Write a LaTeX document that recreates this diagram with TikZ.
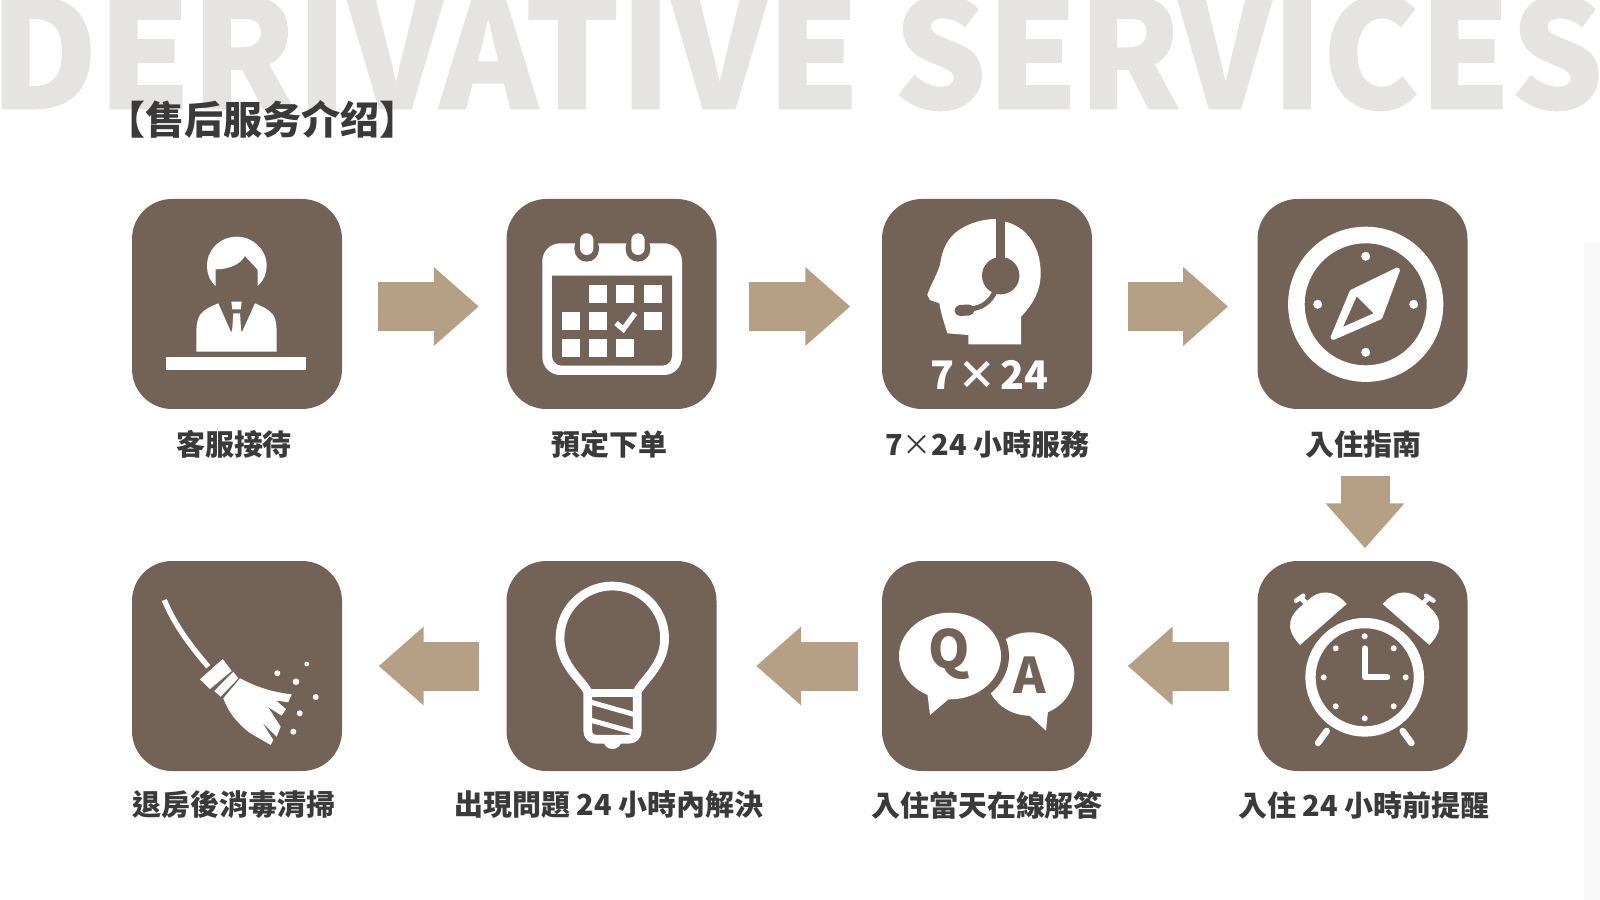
\documentclass[tikz,border=0pt]{standalone}
\usepackage{fontspec}
\usetikzlibrary{arrows.meta}
\newfontfamily\cjkfont{Noto Sans CJK TC}
\newfontfamily\heavyfont[FakeBold=1]{Noto Sans CJK TC Black}
\definecolor{boxbrown}{HTML}{736357}
\definecolor{arrowtan}{HTML}{B59F85}
\definecolor{bggrey}{HTML}{E5E4E2}
\definecolor{labelgrey}{HTML}{3A3A3A}
\definecolor{edgegrey}{HTML}{F8F8F8}
\tikzset{
	iconbox/.style={fill=boxbrown, rounded corners=4mm, minimum size=21mm, inner sep=0pt},
	boxlabel/.style={text=labelgrey, inner sep=0pt, font=\cjkfont\bfseries\fontsize{8.25}{10}\selectfont},
	flowarrow/.style={arrowtan, line width=4.9mm, -{Triangle[length=4.5mm,width=7.6mm]}},
	iconline/.style={white, line width=0.87mm},
}
\begin{document}
\begin{tikzpicture}[x=0.1mm, y=-0.1mm]
	\useasboundingbox (0, 0) rectangle (1600, 900);
	\fill[edgegrey] (1584, 243) rectangle (1600, 900);

	\node[anchor=base west, inner sep=0pt, text=bggrey, xscale=0.987, transform shape, font=\heavyfont\fontsize{42.7}{50}\selectfont] (bgtitle) at (-11, 108.5) {DERIVATIVE \scalebox{0.98}[1]{SERVICES}};
	\node[anchor=west, inner sep=0pt, text=labelgrey, font=\cjkfont\bfseries\fontsize{11.1}{13}\selectfont] (title) at (106, 119) {【售后服务介绍】};

	\node[iconbox] (desk) at (237, 304) {};
	\node[iconbox] (calendar) at (611.5, 304) {};
	\node[iconbox] (headset) at (987, 304) {};
	\node[iconbox] (compass) at (1362.5, 304) {};
	\node[iconbox] (clock) at (1362.5, 666) {};
	\node[iconbox] (qa) at (987, 666) {};
	\node[iconbox] (bulb) at (611.5, 666) {};
	\node[iconbox] (broom) at (237, 666) {};

	\node[boxlabel] (desklabel) at (234, 444) {客服接待};
	\node[boxlabel] (calendarlabel) at (609.5, 444) {預定下单};
	\node[boxlabel] (headsetlabel) at (987.5, 444) {7{\mdseries ×}24 小時服務};
	\node[boxlabel] (compasslabel) at (1363.5, 444) {入住指南};
	\node[boxlabel] (clocklabel) at (1364, 805) {入住 24 小時前提醒};
	\node[boxlabel] (qalabel) at (987, 805) {入住當天在線解答};
	\node[boxlabel] (bulblabel) at (609, 805) {出現問題 24 小時內解決};
	\node[boxlabel] (broomlabel) at (234, 805) {退房後消毒清掃};

	% arrows
	\draw[flowarrow, shorten <=3.5mm, shorten >=2.7mm] ([yshift=-0.25mm]desk.east) -- ([yshift=-0.25mm]calendar.west);
	\draw[flowarrow, shorten <=3.2mm, shorten >=3.1mm] ([yshift=-0.25mm]calendar.east) -- ([yshift=-0.25mm]headset.west);
	\draw[flowarrow, shorten <=3.5mm, shorten >=2.86mm] ([yshift=-0.25mm]headset.east) -- ([yshift=-0.25mm]compass.west);
	\draw[flowarrow, shorten <=6.6mm, shorten >=1.2mm] ([xshift=0.25mm]compass.south) -- ([xshift=0.25mm]clock.north);
	\draw[flowarrow, shorten <=2.8mm, shorten >=3.5mm] (clock.west) -- (qa.east);
	\draw[flowarrow, shorten <=2.36mm, shorten >=3.9mm] (qa.west) -- (bulb.east);
	\draw[flowarrow, shorten <=2.66mm, shorten >=3.6mm] (bulb.west) -- (broom.east);

	% desk
	\fill[white] (215.7, 286) .. controls (209, 280) and (207, 273) .. (207, 266) .. controls (207, 249.5) and (220, 236.7) .. (236.8, 236.7) .. controls (253, 236.7) and (266.7, 249.5) .. (266.7, 266) .. controls (266.7, 273) and (264, 280) .. (257.7, 286) -- (257.7, 270) .. controls (254, 265) and (250, 262) .. (245, 256) .. controls (240, 265) and (228, 269.3) .. (215.7, 269.3) -- cycle;
	\fill[white] (196.3, 351.7) -- (196.3, 335) .. controls (196.3, 322) and (198, 318) .. (200, 315) .. controls (204, 309) and (212, 306) .. (218.3, 303.3) -- (231.3, 332.7) -- (232.3, 328.3) -- (233.3, 313.3) -- (240, 313.3) -- (241, 328.3) -- (241.7, 332.7) -- (255, 303.3) .. controls (261, 306) and (269, 309) .. (273.3, 315) .. controls (275, 318) and (276.7, 322) .. (276.7, 335) -- (276.7, 351.7) -- cycle;
	\fill[white] (231.3, 301.7) -- (241.7, 301.7) -- (240.7, 309.3) -- (232.3, 309.3) -- cycle;
	\fill[white] (166.3, 357) rectangle (306.3, 370);

	% calendar
	\fill[white, rounded corners=1.8mm] (542.3, 243.3) rectangle (682, 375);
	\fill[boxbrown] (552, 275.7) [rounded corners=1mm] -- (552, 365.7) -- (672, 365.7) [sharp corners] -- (672, 275.7) -- cycle;
	\foreach \x in {586.7, 638} {
		\fill[boxbrown, rounded corners=1.23mm] (\x-12.3, 235) rectangle (\x+12.3, 261.7);
		\fill[white, rounded corners=0.67mm] (\x-6.7, 233.3) rectangle (\x+6.7, 255);
	}
	\foreach \x/\y in {589.3/285, 616.3/285, 643.7/285, 562.3/312, 589.3/312, 643.7/312, 562.3/339, 589.3/339, 616.3/339}
		\fill[white] (\x, \y) rectangle (\x+18, \y+18);
	\draw[white, line width=0.53mm] (616, 323) -- (623.3, 329.3) -- (635, 313.3);

	% headset
	\fill[white] (995.7, 219) .. controls (980, 219) and (956, 226) .. (946.7, 243.3) .. controls (942, 252) and (941, 258) .. (940, 265) .. controls (936, 277) and (930, 286) .. (927.3, 295) -- (930, 300) -- (939.3, 303.3) .. controls (941, 312) and (942, 316) .. (943.3, 320) -- (947.3, 333.3) -- (968.3, 335) -- (968.3, 344.3) -- (1021, 344.3) -- (1021, 316.7) .. controls (1034, 303) and (1040.7, 290) .. (1040.7, 273.3) .. controls (1040.7, 245) and (1025, 226) .. (1005, 221.7) -- cycle;
	\draw[boxbrown, line width=0.93mm] (1000.3, 205) -- (1000.3, 262);
	\fill[boxbrown] (1000.7, 275.7) circle (18.7);
	\draw[boxbrown, line width=0.5mm] (995, 291.7) .. controls (990, 302) and (982, 308) .. (970, 309);
	\draw[boxbrown, line width=1.1mm, line cap=round] (960, 310.5) -- (969, 310);
	\node[text=white, inner sep=0pt, font=\cjkfont\bfseries\fontsize{11.2}{14}\selectfont] (hours) at (989.3, 375.3) {7\kern0.8pt×\kern1pt24};

	% compass
	\draw[white, line width=1.66mm] (1365.7, 304.3) circle (69.3);
	\foreach \x/\y in {1365.7/256.3, 1365.7/352.3, 1317.7/304.3, 1413.7/304.3}
		\fill[white] (\x, \y) circle (4.5);
	\filldraw[white, line width=0.5mm, line join=round] (1397.5, 270) -- (1380, 317) -- (1333, 337.5) -- (1352, 292) -- cycle;
	\fill[boxbrown] (1356.7, 296.7) -- (1373.3, 313.3) -- (1343.3, 326.7) -- cycle;

	% clock
	\draw[white, line width=1.03mm] (1364.7, 677.3) circle (54.2);
	\foreach \a in {0, 45, ..., 315}
		\fill[white, shift={(1364.7, 677.3)}] (\a:41) circle (3);
	\draw[white, line width=0.6mm, line cap=round, line join=round] (1364.7, 648.3) -- (1364.7, 677) -- (1387.3, 677);
	\foreach \flip/\off in {1/0, -1/2729.4} {
		\begin{scope}[shift={(\off, 0)}, xscale=\flip]
			\fill[white] (1300, 645) .. controls (1284, 628) and (1288, 615) .. (1306.7, 601.7) .. controls (1318, 589) and (1334, 589) .. (1346.7, 604) -- cycle;
			\draw[white, line width=0.45mm, line cap=round] (1296, 600.7) -- (1303.3, 595.7);
			\draw[white, line width=0.5mm] (1301, 598) -- (1307, 604);
			\draw[white, line width=0.65mm, line cap=round] (1326.7, 731) -- (1318, 743);
		\end{scope}
	}

	% questions and answers
	\fill[white] (1030, 674) ellipse [x radius=44.3, y radius=41.7];
	\fill[white] (1026.7, 713) -- (1046, 730.7) -- (1048.3, 708) -- cycle;
	\fill[boxbrown] (950, 656) ellipse [x radius=59, y radius=51.3];
	\fill[white] (950, 656) ellipse [x radius=51, y radius=43.3];
	\fill[white] (927.3, 693) -- (930, 715) -- (950, 698) -- cycle;
	\node[text=boxbrown, inner sep=0pt, font=\cjkfont\bfseries\fontsize{15}{18}\selectfont] (qletter) at (949.3, 654) {Q};
	\node[text=boxbrown, inner sep=0pt, font=\cjkfont\bfseries\fontsize{14}{17}\selectfont] (aletter) at (1030, 675) {A};

	% bulb
	\draw[iconline, line join=round] (587.7, 691.7) .. controls (582, 680) and (560, 665) .. (560, 638.3) .. controls (560, 609.4) and (583.4, 586) .. (612.3, 586) .. controls (641.2, 586) and (664.6, 609.4) .. (664.6, 638.3) .. controls (664.6, 665) and (643, 680) .. (637.3, 691.7) -- (637.3, 730) .. controls (637.3, 736) and (634, 739.3) .. (628.3, 739.3) -- (596.7, 739.3) .. controls (591, 739.3) and (587.7, 736) .. (587.7, 730) -- cycle;
	\draw[iconline] (587.7, 693) -- (637.3, 693);
	\draw[white, line width=0.5mm] (590, 702) -- (636, 715);
	\draw[white, line width=0.5mm] (590, 720) -- (634, 732.3);
	\fill[white] (603.3, 742) -- (621.7, 742) .. controls (620, 746) and (617, 749) .. (612.3, 749) .. controls (608, 749) and (605, 746) .. (603.3, 742) -- cycle;

	% broom
	\draw[white, line width=0.53mm] (164.3, 600) .. controls (173.3, 621.7) and (186.7, 641.7) .. (208.3, 666.7);
	\fill[white] (222.7, 659) -- (231.7, 671) -- (210, 689) -- (200, 679.3) -- cycle;
	\fill[white] (233.3, 671.7) -- (238.3, 678.3) -- (220.7, 696.7) -- (214.3, 691) -- cycle;
	\fill[white] (240, 678.3) .. controls (255, 686) and (270, 692) .. (291.7, 694.3) -- (288.3, 702.3) -- (276, 700.5) -- (286, 709) -- (281.7, 715.7) -- (268, 707) -- (280.7, 726.7) -- (276.7, 736.7) -- (262, 722) -- (273.3, 740) -- (270.7, 745) -- (250, 733) .. controls (238, 724) and (228, 712) .. (223.3, 698.3) -- cycle;
	\foreach \x/\y/\r in {277.3/673.3/3, 306.7/664/2.4, 296/681.7/3.3, 315.7/697/3, 299.7/713.3/3, 293.3/731.7/3}
		\fill[white] (\x, \y) circle (\r);
\end{tikzpicture}
\end{document}
